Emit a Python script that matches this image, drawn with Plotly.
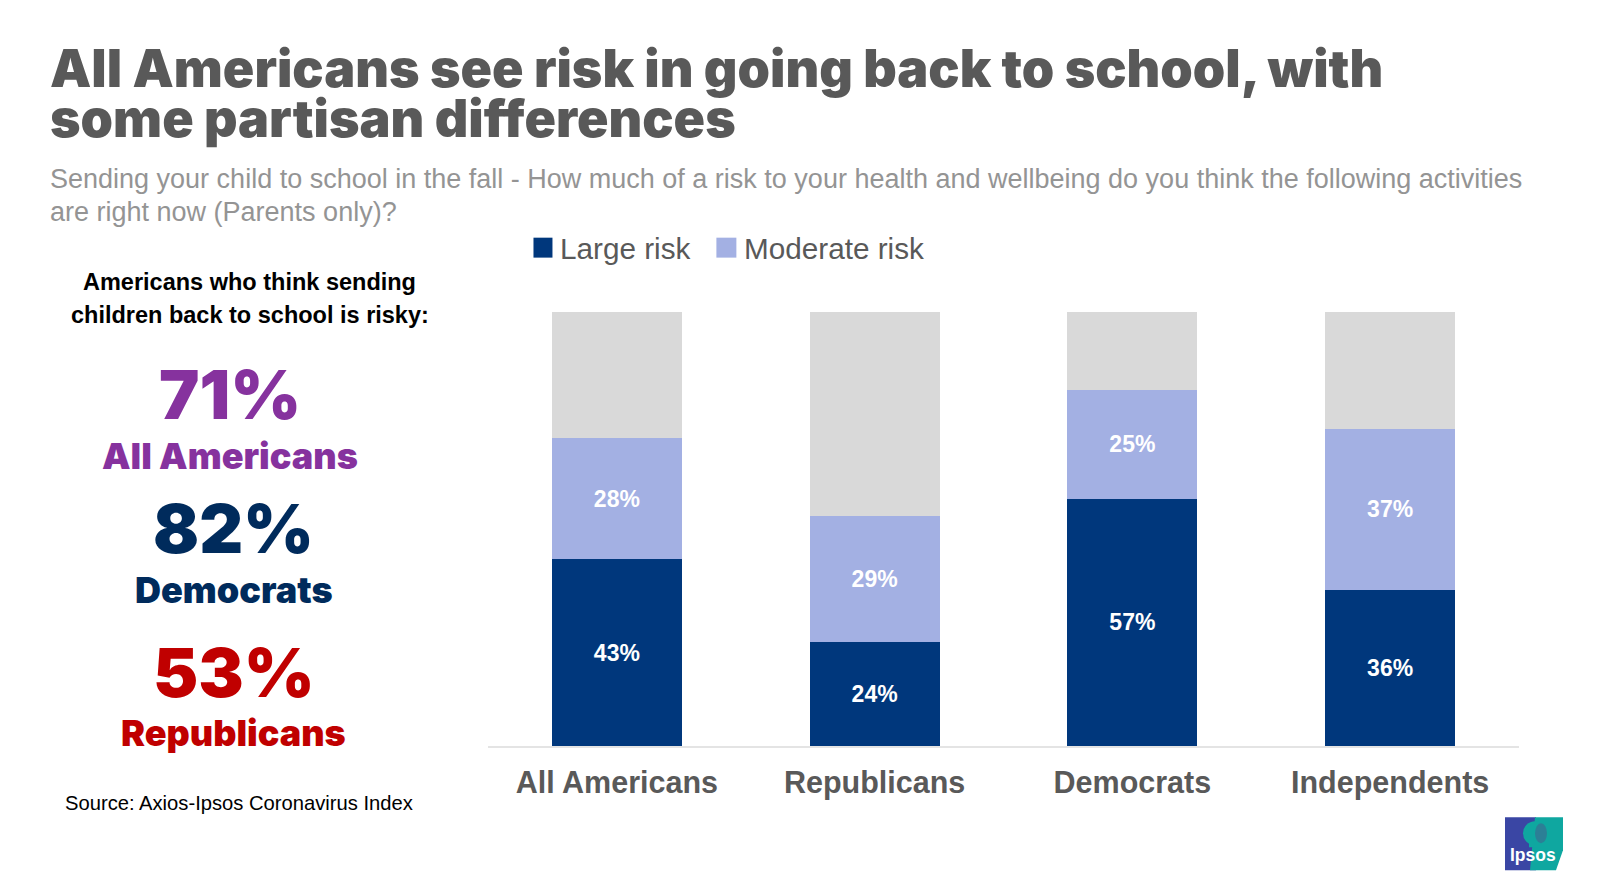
import plotly.graph_objects as go

# --- Data ---
categories = ["All Americans", "Republicans", "Democrats", "Independents"]
large_risk = [43, 24, 57, 36]
moderate_risk = [28, 29, 25, 37]
remainder = [29, 47, 18, 27]

callout_values = ["71%", "82%", "53%"]
callout_labels = ["All Americans", "Democrats", "Republicans"]

# page has an 8px body margin around the figure
W, H = 1590, 876
FONT = "Liberation Sans"
HEAVY = "Inter"
GREY_TEXT = "#595959"
BLUE_LOGO = "#3A46A4"
TEAL_LOGO = "#0FA7A0"


def fx(x):
    return (x - 487.5) / 1031.5


def fy(y):
    return (746.5 - y) / 435


def text(x, y, s, size, color, weight="normal", anchor="left", family=FONT):
    fig.add_annotation(
        x=fx(x), y=fy(y), xref="paper", yref="paper", text=s,
        showarrow=False, xanchor=anchor, yanchor="middle", align=anchor,
        font=dict(family=family, size=size, color=color, weight=weight),
    )


def box(x0, x1, y0, y1, color, kind="rect"):
    fig.add_shape(type=kind, xref="paper", yref="paper", x0=fx(x0), x1=fx(x1), y0=fy(y1), y1=fy(y0),
                  fillcolor=color, line_width=0)


fig = go.Figure()
fig.add_bar(
    x=categories, y=large_risk, name="Large risk", marker=dict(color="#00377C", line_width=0),
    text=[f"{v}%" for v in large_risk], textposition="inside", insidetextanchor="middle",
    textangle=0, insidetextfont=dict(family=FONT, size=23, color="white", weight="bold"),
)
fig.add_bar(
    x=categories, y=moderate_risk, name="Moderate risk", marker=dict(color="#A3B0E3", line_width=0),
    text=[f"{v}%" for v in moderate_risk], textposition="inside", insidetextanchor="middle",
    textangle=0, insidetextfont=dict(family=FONT, size=23, color="white", weight="bold"),
)
fig.add_bar(
    x=categories, y=remainder, name="Other", marker=dict(color="#D9D9D9", line_width=0),
)

fig.update_layout(
    width=W, height=H, barmode="stack", bargap=0.495, showlegend=False,
    paper_bgcolor="white", plot_bgcolor="white",
    margin=dict(l=479.5, r=W - 1511, t=303.5, b=H - 738.5, autoexpand=False),
    font=dict(family=FONT, color=GREY_TEXT),
    xaxis=dict(
        showline=True, linecolor="#E4E4E4", linewidth=2, ticks="",
        tickfont=dict(family=FONT, size=30.5, color=GREY_TEXT, weight="bold"),
        ticklabelstandoff=8,
    ),
    yaxis=dict(range=[0, 100], visible=False),
)

# Legend, drawn by hand because the swatches are bigger than plotly's
box(533, 552, 237, 257, "#00377C")
text(558, 248, "Large risk", 29.7, GREY_TEXT)
box(716, 736, 237, 257, "#A3B0E3")
text(742, 248, "Moderate risk", 29.7, GREY_TEXT)

# Heading
text(47, 67, "All Americans see risk in going back to school, with", 52, GREY_TEXT, 900, family=HEAVY)
text(47, 118, "some partisan differences", 52, GREY_TEXT, 900, family=HEAVY)
text(47, 178, "Sending your child to school in the fall - How much of a risk to your health and wellbeing do you think the following activities", 27, "#949494")
text(47, 211, "are right now (Parents only)?", 27, "#949494")

# Left column
text(249, 281, "Americans who think sending", 23.5, "black", "bold", "center")
text(249, 315, "children back to school is risky:", 23.5, "black", "bold", "center")

value_colors = ["#86329E", "#002B5C", "#C00000"]
value_x = [229, 233, 233]
value_y = [394, 528, 672]
label_y = [456, 590, 733]
for i in range(3):
    text(value_x[i], value_y[i], callout_values[i], 68, value_colors[i], 900, "center", HEAVY)
    text(value_x[i], label_y[i], callout_labels[i], 36, value_colors[i], 900, "center", HEAVY)

text(238, 804, "Source: Axios-Ipsos Coronavirus Index", 20.2, "black", "normal", "center")

# Logo
box(1505, 1536, 818, 871, BLUE_LOGO)
teal_pts = [(1535, 818), (1563, 818), (1563, 851), (1556, 871), (1530, 871)]
teal_path = "M" + " L".join(f"{fx(x)},{fy(y)}" for x, y in teal_pts) + " Z"
fig.add_shape(type="path", xref="paper", yref="paper", path=teal_path, fillcolor=TEAL_LOGO, line_width=0)
box(1523, 1547, 822, 846, TEAL_LOGO, "circle")
box(1529, 1541, 841, 848, TEAL_LOGO)
box(1535, 1547, 824, 844, "#2C7F96", "circle")
text(1533, 856, "Ipsos", 17.5, "white", "bold", "center")

fig.write_html("out.html")
